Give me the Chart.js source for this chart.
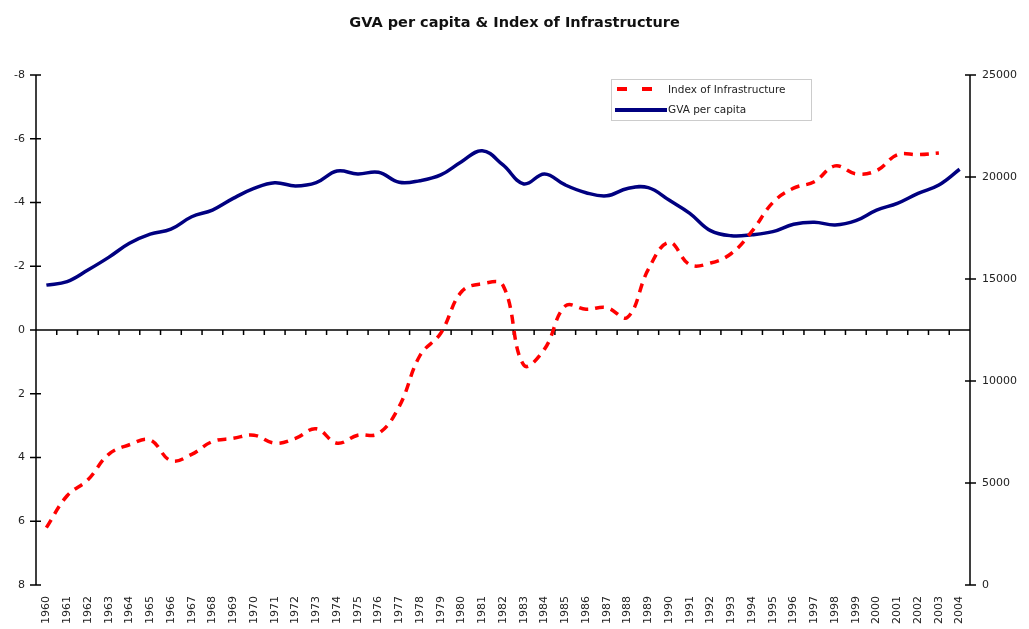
<!DOCTYPE html>
<html lang="en">
<head>
    <meta charset="UTF-8">
    <title>GVA per capita & Index of Infrastructure</title>
    <script src="https://cdn.jsdelivr.net/npm/chart.js@4.4.1/dist/chart.umd.min.js"></script>
    <style>
        body { margin: 0; background: #fff; }
        #wrap { width: 1029px; height: 629px; }
    </style>
</head>
<body>
<div id="wrap"><canvas id="gvaChart" width="1029" height="629"></canvas></div>
<script>
    // years on the category axis
    const years = [];
    for (let y = 1960; y <= 2004; y++) years.push(String(y));

    // Index of Infrastructure (left axis, reversed), no value for 2004
    const infraIndex = [6.2, 5.2, 4.7, 3.9, 3.6, 3.45, 4.1, 3.9, 3.5, 3.4,
        3.3, 3.55, 3.4, 3.1, 3.55, 3.3, 3.25, 2.4, 0.8, 0.1,
        -1.2, -1.45, -1.4, 1.1, 0.6, -0.75, -0.65, -0.7, -0.4, -1.9,
        -2.75, -2.05, -2.1, -2.4, -3.1, -4.0, -4.45, -4.65, -5.15, -4.9,
        -5.0, -5.5, -5.5, -5.55, null];

    // GVA per capita (right axis)
    const gvaPerCapita = [14700, 14870, 15440, 16060, 16750, 17200, 17440, 18050, 18380, 18950,
        19440, 19720, 19560, 19720, 20290, 20150, 20230, 19740, 19820, 20100,
        20750, 21290, 20590, 19660, 20150, 19610, 19230, 19080, 19440, 19480,
        18870, 18220, 17370, 17120, 17170, 17320, 17680, 17780, 17650, 17860,
        18380, 18710, 19200, 19610, 20380];

    const leftTicks = [-8, -6, -4, -2, 0, 2, 4, 6, 8];
    const rightTicks = [0, 5000, 10000, 15000, 20000, 25000];

    const FONT = "'DejaVu Sans', Verdana, sans-serif";

    // axes drawn Excel-style: crossing tick marks and a category line at zero
    const excelAxes = {
        id: 'excelAxes',
        beforeDatasetsDraw(chart) {
            const ctx = chart.ctx;
            const area = chart.chartArea;
            const yL = chart.scales.y, yR = chart.scales.y1, x = chart.scales.x;
            ctx.save();
            ctx.strokeStyle = '#000';
            ctx.lineWidth = 1.5;
            ctx.beginPath();
            ctx.moveTo(area.left, area.top); ctx.lineTo(area.left, area.bottom);
            ctx.moveTo(area.right, area.top); ctx.lineTo(area.right, area.bottom);
            leftTicks.forEach(v => {
                const py = yL.getPixelForValue(v);
                ctx.moveTo(area.left - 6, py); ctx.lineTo(area.left + 5, py);
            });
            rightTicks.forEach(v => {
                const py = yR.getPixelForValue(v);
                ctx.moveTo(area.right - 5, py); ctx.lineTo(area.right + 6, py);
            });
            const py0 = yL.getPixelForValue(0);
            ctx.moveTo(area.left, py0); ctx.lineTo(area.right, py0);
            for (let i = 1; i < years.length; i++) {
                const px = (x.getPixelForValue(i - 1) + x.getPixelForValue(i)) / 2;
                ctx.moveTo(px, py0); ctx.lineTo(px, py0 + 5);
            }
            ctx.stroke();
            ctx.restore();
        }
    };

    // legend box inside the plot
    const boxLegend = {
        id: 'boxLegend',
        afterDraw(chart) {
            const ctx = chart.ctx;
            ctx.save();
            ctx.strokeStyle = '#ccc';
            ctx.lineWidth = 1;
            ctx.strokeRect(611.5, 79.5, 200, 41);
            ctx.lineWidth = 4;
            ctx.strokeStyle = '#ff0000';
            ctx.beginPath();
            ctx.moveTo(617, 89); ctx.lineTo(627, 89);
            ctx.moveTo(642, 89); ctx.lineTo(652, 89);
            ctx.stroke();
            ctx.strokeStyle = '#000080';
            ctx.beginPath();
            ctx.moveTo(615, 110); ctx.lineTo(667, 110);
            ctx.stroke();
            ctx.fillStyle = '#222';
            ctx.font = '10.5px ' + FONT;
            ctx.textBaseline = 'middle';
            ctx.fillText(chart.data.datasets[0].label, 668, 90);
            ctx.fillText(chart.data.datasets[1].label, 668, 110);
            ctx.restore();
        }
    };

    const tickFont = { family: FONT, size: 11 };

    const ctx = document.getElementById('gvaChart').getContext('2d');
    new Chart(ctx, {
        type: 'line',
        data: {
            labels: years,
            datasets: [{
                label: 'Index of Infrastructure',
                data: infraIndex,
                yAxisID: 'y',
                borderColor: '#ff0000',
                borderWidth: 3.5,
                borderDash: [9, 7],
                pointRadius: 0,
                tension: 0.4,
                fill: false
            }, {
                label: 'GVA per capita',
                data: gvaPerCapita,
                yAxisID: 'y1',
                borderColor: '#000080',
                borderWidth: 3.5,
                pointRadius: 0,
                tension: 0.4,
                fill: false
            }]
        },
        options: {
            responsive: false,
            animation: false,
            layout: { padding: 0 },
            plugins: {
                legend: { display: false },
                tooltip: { enabled: false },
                title: {
                    display: true,
                    text: 'GVA per capita & Index of Infrastructure',
                    color: '#111',
                    font: { family: FONT, size: 14.5, weight: 'bold', lineHeight: 1.2 },
                    padding: { top: 15, bottom: 42.6 }
                }
            },
            scales: {
                x: {
                    offset: true,
                    grid: { display: false, drawTicks: false },
                    border: { display: false },
                    ticks: {
                        autoSkip: false,
                        minRotation: 90,
                        maxRotation: 90,
                        padding: 11,
                        color: '#222',
                        font: tickFont
                    },
                    afterFit(s) { s.height = 44; }
                },
                y: {
                    position: 'left',
                    min: -8,
                    max: 8,
                    reverse: true,
                    grid: { display: false, drawTicks: false },
                    border: { display: false },
                    ticks: {
                        stepSize: 2,
                        padding: 11,
                        color: '#222',
                        font: tickFont
                    },
                    afterFit(s) { s.width = 36; }
                },
                y1: {
                    position: 'right',
                    min: 0,
                    max: 25000,
                    grid: { display: false, drawTicks: false },
                    border: { display: false },
                    ticks: {
                        stepSize: 5000,
                        padding: 12,
                        color: '#222',
                        font: tickFont,
                        callback: v => String(v)
                    },
                    afterFit(s) { s.width = 59; }
                }
            }
        },
        plugins: [excelAxes, boxLegend]
    });
</script>
</body>
</html>
